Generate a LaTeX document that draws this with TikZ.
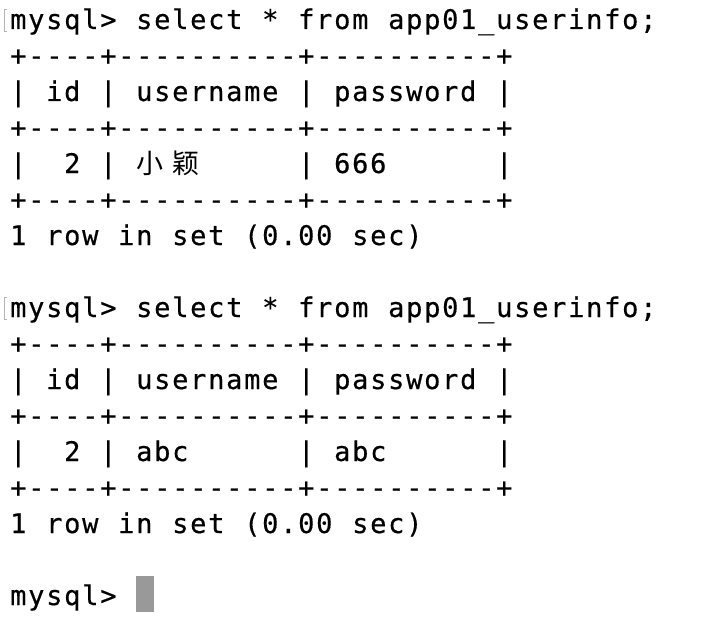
\documentclass[tikz,border=0pt]{standalone}
\usepackage{fontspec}
\newfontfamily\termfont[LetterSpace=6.46, FakeBold=0.5]{DejaVu Sans Mono}
\newfontfamily\cjkfont{Noto Sans CJK SC}
\begin{document}
\begin{tikzpicture}
  [
  x=18bp, y=-36bp,
  term/.style={anchor=base west, inner sep=0pt, text=black, font=\termfont\fontsize{27bp}{36bp}\selectfont},
  cjk/.style={anchor=base, inner sep=0pt, text=black, font=\cjkfont\fontsize{27bp}{36bp}\selectfont},
  cursorbox/.style={anchor=north west, inner sep=0pt, minimum width=18bp, minimum height=36bp, fill=black!40},
  markbar/.style={draw=black!30, line width=1bp}
  ]

\useasboundingbox (-0.5556,-0.8056) rectangle (39.7778,16.4167);

% prompts
\foreach \r in {0,8} {
  \draw[markbar] (-0.1667,\r-0.528) -- (-0.333,\r-0.528) -- (-0.333,\r+0.083) -- (-0.1667,\r+0.083);
  \foreach \c/\t in {0/mysql>, 7/select, 14/*, 16/from, 21/app01\_userinfo;} {
    \node[term] (p\r-\c) at (\c,\r) {\t};
  }
}

% table borders
\foreach \r in {1,3,5,9,11,13} {
  \node[term] (b\r) at (0,\r) {+----+----------+----------+};
}

% header rows
\foreach \r in {2,10} {
  \foreach \c/\t in {0/|, 2/id, 5/|, 7/username, 16/|, 18/password, 27/|} {
    \node[term] (h\r-\c) at (\c,\r) {\t};
  }
}

% data rows
\foreach \c/\t in {0/|, 3/2, 5/|, 16/|, 18/666, 27/|} {
  \node[term] (d4-\c) at (\c,4) {\t};
}
\node[cjk] (u4-a) at (7.78,4) {小};
\node[cjk] (u4-b) at (9.75,4) {颖};

\foreach \c/\t in {0/|, 3/2, 5/|, 7/abc, 16/|, 18/abc, 27/|} {
  \node[term] (d12-\c) at (\c,12) {\t};
}

% result lines
\foreach \r in {6,14} {
  \foreach \c/\t in {0/1, 2/row, 6/in, 9/set, 13/(0.00, 19/sec)} {
    \node[term] (s\r-\c) at (\c,\r) {\t};
  }
}

% last prompt
\node[term] (p16) at (0,16) {mysql>};
\node[cursorbox] (cursor) at (7,15.1944) {};
\end{tikzpicture}
\end{document}
